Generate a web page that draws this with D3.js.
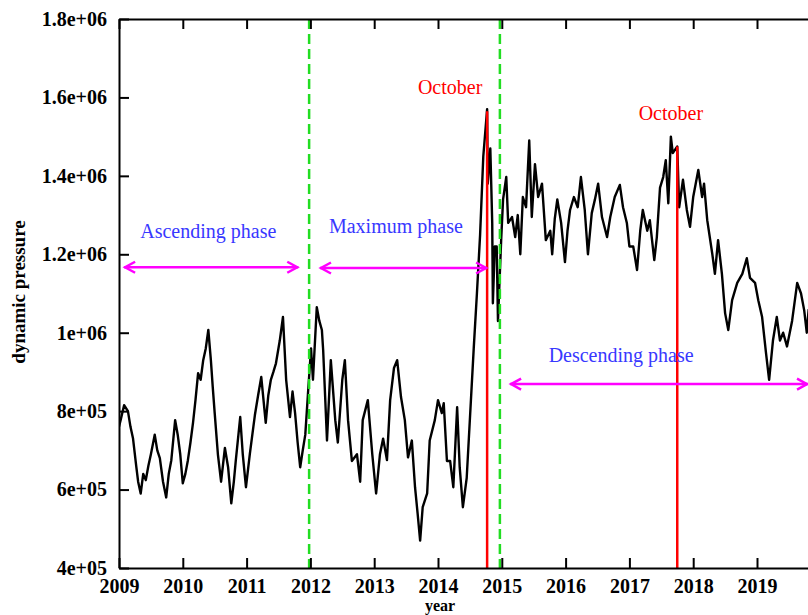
<!DOCTYPE html>
<html><head><meta charset="utf-8">
<script src="https://cdn.jsdelivr.net/npm/d3@7"></script>
<style>body{margin:0;background:#fff}svg{display:block}</style>
</head><body><svg id="c" width="808" height="615"></svg>
<script>
// ---- data ----
const years = [2009.00,2009.03,2009.08,2009.14,2009.18,2009.22,2009.27,2009.30,2009.34,2009.38,2009.42,2009.46,2009.50,2009.56,2009.60,2009.64,2009.69,2009.74,2009.78,2009.82,2009.88,2009.92,2009.96,2010.00,2010.04,2010.08,2010.12,2010.16,2010.20,2010.24,2010.28,2010.32,2010.36,2010.40,2010.44,2010.47,2010.50,2010.55,2010.60,2010.66,2010.71,2010.76,2010.80,2010.83,2010.90,2010.94,2010.99,2011.05,2011.09,2011.13,2011.18,2011.23,2011.30,2011.34,2011.38,2011.42,2011.46,2011.52,2011.57,2011.62,2011.68,2011.72,2011.76,2011.80,2011.84,2011.88,2011.92,2011.96,2012.01,2012.04,2012.10,2012.14,2012.18,2012.20,2012.26,2012.32,2012.39,2012.43,2012.50,2012.54,2012.59,2012.65,2012.73,2012.78,2012.82,2012.90,2012.97,2013.03,2013.09,2013.14,2013.20,2013.25,2013.31,2013.36,2013.42,2013.48,2013.53,2013.59,2013.64,2013.68,2013.72,2013.76,2013.83,2013.87,2013.95,2014.00,2014.06,2014.09,2014.14,2014.19,2014.24,2014.30,2014.34,2014.39,2014.45,2014.50,2014.56,2014.61,2014.66,2014.71,2014.77,2014.78,2014.82,2014.85,2014.86,2014.89,2014.92,2014.94,2014.99,2015.02,2015.07,2015.10,2015.16,2015.21,2015.25,2015.29,2015.33,2015.38,2015.43,2015.47,2015.52,2015.57,2015.63,2015.69,2015.76,2015.79,2015.83,2015.87,2015.93,2015.99,2016.03,2016.07,2016.13,2016.19,2016.24,2016.30,2016.35,2016.41,2016.46,2016.51,2016.57,2016.65,2016.70,2016.77,2016.85,2016.90,2016.96,2017.00,2017.06,2017.12,2017.17,2017.21,2017.28,2017.32,2017.39,2017.43,2017.48,2017.53,2017.57,2017.61,2017.65,2017.68,2017.75,2017.78,2017.84,2017.90,2017.95,2018.00,2018.08,2018.14,2018.17,2018.22,2018.30,2018.34,2018.39,2018.45,2018.50,2018.55,2018.61,2018.69,2018.77,2018.84,2018.89,2018.97,2019.02,2019.08,2019.14,2019.19,2019.25,2019.31,2019.36,2019.41,2019.47,2019.55,2019.63,2019.69,2019.74,2019.78,2019.81];
const pressure = [760000,780000,815000,800000,760000,730000,660000,620000,590000,640000,624000,660000,690000,740000,700000,680000,620000,580000,640000,675000,777000,740000,690000,616000,640000,675000,720000,770000,830000,897000,880000,930000,960000,1007000,930000,860000,795000,690000,620000,706000,657000,565000,620000,673000,785000,690000,606000,690000,740000,790000,840000,887000,770000,840000,880000,900000,922000,980000,1040000,880000,785000,850000,795000,720000,657000,700000,740000,840000,960000,880000,1065000,1030000,1007000,956000,725000,930000,777000,720000,880000,930000,777000,673000,690000,620000,777000,828000,690000,590000,690000,730000,675000,828000,910000,930000,836000,777000,682000,725000,606000,540000,470000,555000,590000,725000,777000,828000,795000,820000,673000,673000,606000,810000,657000,555000,630000,780000,960000,1100000,1250000,1450000,1570000,1380000,1470000,1280000,1075000,1220000,1220000,1030000,1236000,1340000,1397000,1280000,1295000,1244000,1300000,1200000,1346000,1320000,1490000,1295000,1430000,1346000,1380000,1236000,1260000,1200000,1290000,1340000,1280000,1180000,1260000,1313000,1346000,1320000,1397000,1313000,1200000,1305000,1340000,1380000,1295000,1244000,1295000,1346000,1377000,1320000,1280000,1220000,1220000,1160000,1260000,1313000,1260000,1287000,1185000,1244000,1370000,1397000,1440000,1330000,1500000,1458000,1475000,1320000,1390000,1313000,1270000,1346000,1415000,1346000,1380000,1287000,1200000,1150000,1236000,1150000,1050000,1007000,1083000,1127000,1150000,1190000,1140000,1127000,1083000,1040000,950000,880000,980000,1040000,980000,1000000,965000,1030000,1127000,1100000,1057000,1000000,1060000];
const yTicks = [400000,600000,800000,1000000,1200000,1400000,1600000,1800000];
const yTickLabels = ["4e+05","6e+05","8e+05","1e+06","1.2e+06","1.4e+06","1.6e+06","1.8e+06"];
const xTicks = [2009,2010,2011,2012,2013,2014,2015,2016,2017,2018,2019,2020];
const xTickLabels = ["2009","2010","2011","2012","2013","2014","2015","2016","2017","2018","2019",""];
const phaseBounds = [2011.98, 2014.97];
const octoberYears = [2014.77, 2017.75];
const octoberPeaks = [1565000, 1475000];
const octoberLabelPos = [[2014.19, 1608000], [2017.65, 1542000]];
const phaseNames = ["Ascending phase","Maximum phase","Descending phase"];
const phaseLabelPos = [[2010.40, 1241000], [2013.34, 1254000], [2016.87, 925000]];
const phaseArrows = [[2009.08, 2011.81, 1167000], [2012.15, 2014.77, 1165000], [2015.13, 2019.80, 869000]];

// ---- chart ----
const svg = d3.select("#c");
const x = d3.scaleLinear().domain([2009, 2020]).range([119, 820.8]);
const y = d3.scaleLinear().domain([400000, 1800000]).range([568, 19]);
const serif = "'Liberation Serif','Times New Roman',serif";

svg.append("defs").append("clipPath").attr("id","clip")
  .append("rect").attr("x",119).attr("y",19).attr("width",702).attr("height",549);

const plot = svg.append("g").attr("clip-path","url(#clip)");

// data line
const data = years.map((d,i)=>[d, pressure[i]]);
plot.append("path").datum(data)
  .attr("fill","none").attr("stroke","#000").attr("stroke-width",2.4).attr("stroke-linejoin","round")
  .attr("d", d3.line().x(d=>x(d[0])).y(d=>y(d[1])));

// phase boundaries (green dashed)
plot.selectAll(".pb").data(phaseBounds).enter().append("line")
  .attr("x1",d=>x(d)).attr("x2",d=>x(d)).attr("y1",y(1800000)).attr("y2",y(400000))
  .attr("stroke","#22dd22").attr("stroke-width",2.5).attr("stroke-dasharray","10,5");

// october red lines
plot.selectAll(".oct").data(octoberYears).enter().append("line")
  .attr("x1",d=>x(d)).attr("x2",d=>x(d)).attr("y1",y(400000)).attr("y2",(d,i)=>y(octoberPeaks[i]))
  .attr("stroke","#ff0000").attr("stroke-width",2.5);

// arrows
const mag = "#ff00ff";
phaseArrows.forEach(a=>{
  const x1 = x(a[0]), x2 = x(a[1]), yy = y(a[2]);
  plot.append("line").attr("x1",x1).attr("x2",x2).attr("y1",yy).attr("y2",yy)
    .attr("stroke",mag).attr("stroke-width",2.5);
  plot.append("path").attr("d",`M${x1+11},${yy-5.5}L${x1+1},${yy}L${x1+11},${yy+5.5}`)
    .attr("fill","none").attr("stroke",mag).attr("stroke-width",2.5);
  plot.append("path").attr("d",`M${x2-11},${yy-5.5}L${x2-1},${yy}L${x2-11},${yy+5.5}`)
    .attr("fill","none").attr("stroke",mag).attr("stroke-width",2.5);
});

// labels
plot.selectAll(".pl").data(phaseNames).enter().append("text")
  .attr("x",(d,i)=>x(phaseLabelPos[i][0])).attr("y",(d,i)=>y(phaseLabelPos[i][1]))
  .attr("text-anchor","middle").attr("font-family",serif).attr("font-size",20)
  .attr("fill","#3838ff").text(d=>d);
plot.selectAll(".ol").data(octoberLabelPos).enter().append("text")
  .attr("x",d=>x(d[0])).attr("y",d=>y(d[1]))
  .attr("text-anchor","middle").attr("font-family",serif).attr("font-size",20)
  .attr("fill","#ff0000").text("October");

// axes frame
const frame = svg.append("g");
const axisB = d3.axisBottom(x).tickValues(xTicks).tickSizeInner(-10).tickSizeOuter(0).tickPadding(11).tickFormat((d,i)=>xTickLabels[i]);
const axisT = d3.axisTop(x).tickValues(xTicks).tickSizeInner(-10).tickSizeOuter(0).tickFormat("");
const axisL = d3.axisLeft(y).tickValues(yTicks).tickSizeInner(-10).tickSizeOuter(0).tickPadding(12).tickFormat((d,i)=>yTickLabels[i]);
const axisR = d3.axisRight(y).tickValues(yTicks).tickSizeInner(-10).tickSizeOuter(0).tickFormat("");
function style(g){
  g.selectAll("path,line").attr("stroke","#000").attr("stroke-width",2);
  g.selectAll("text").attr("font-family",serif).attr("font-weight","bold").attr("font-size",20).attr("fill","#000");
}
frame.append("g").attr("transform","translate(0,568)").call(axisB).call(style);
frame.append("g").attr("transform","translate(0,19)").call(axisT).call(style);
frame.append("g").attr("transform","translate(119,0)").call(axisL).call(style);
frame.append("g").attr("transform","translate(820.8,0)").call(axisR).call(style);

svg.append("text").attr("transform","translate(25,292) rotate(-90)").attr("text-anchor","middle")
  .attr("font-family",serif).attr("font-weight","bold").attr("font-size",19).text("dynamic pressure");
svg.append("text").attr("x",440).attr("y",611).attr("text-anchor","middle")
  .attr("font-family",serif).attr("font-weight","bold").attr("font-size",16).text("year");
</script></body></html>
